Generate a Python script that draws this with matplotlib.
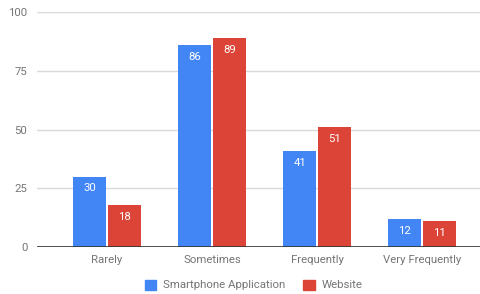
import numpy as np
import matplotlib
matplotlib.use("Agg")
import matplotlib.pyplot as plt
from matplotlib.patches import Patch

categories = ["Rarely", "Sometimes", "Frequently", "Very Frequently"]
smartphone = [30, 86, 41, 12]
website = [18, 89, 51, 11]
series_names = ["Smartphone Application", "Website"]
y_ticks = [0, 25, 50, 75, 100]

blue = "#4285F4"
red = "#DB4437"
gray = "#757575"

plt.rcParams['font.family'] = ['Roboto', 'DejaVu Sans']

fig = plt.figure(figsize=(4.81, 2.94), dpi=100)
ax = fig.add_axes([37 / 481, 1 - 247 / 294, 1 - 37 / 481, 235 / 294])

x = np.arange(len(categories))
w = 0.31
off = 0.165
b1 = ax.bar(x - off, smartphone, w, color=blue, zorder=3)
b2 = ax.bar(x + off, website, w, color=red, zorder=3)

for bars, vals in ((b1, smartphone), (b2, website)):
    for bar, v in zip(bars, vals):
        ax.text(bar.get_x() + bar.get_width() / 2, v - 5.1, str(v),
                ha='center', va='center', color='white', fontsize=8.2, zorder=4)

ax.set_xlim(-0.667, 3.562)
ax.set_ylim(0, 100)
ax.set_yticks(y_ticks)
ax.set_xticks(x)
ax.set_xticklabels(categories)
ax.tick_params(axis='both', length=0, labelsize=8.2, labelcolor=gray)
ax.tick_params(axis='y', pad=7)
ax.tick_params(axis='x', pad=6)
ax.grid(axis='y', color='#d9d9d9', linewidth=1, zorder=0)
ax.axhline(0, color='#333333', linewidth=1.2, zorder=5)
for s in ax.spines.values():
    s.set_visible(False)

handles = [Patch(color=blue), Patch(color=red)]
fig.legend(handles, series_names, loc='center', bbox_to_anchor=(0.527, 1 - 285 / 294),
           ncol=2, frameon=False, fontsize=8.2, labelcolor=gray,
           handlelength=1.0, handleheight=1.0, handletextpad=0.6, columnspacing=1.6)

fig.savefig("out.png", dpi=100)
